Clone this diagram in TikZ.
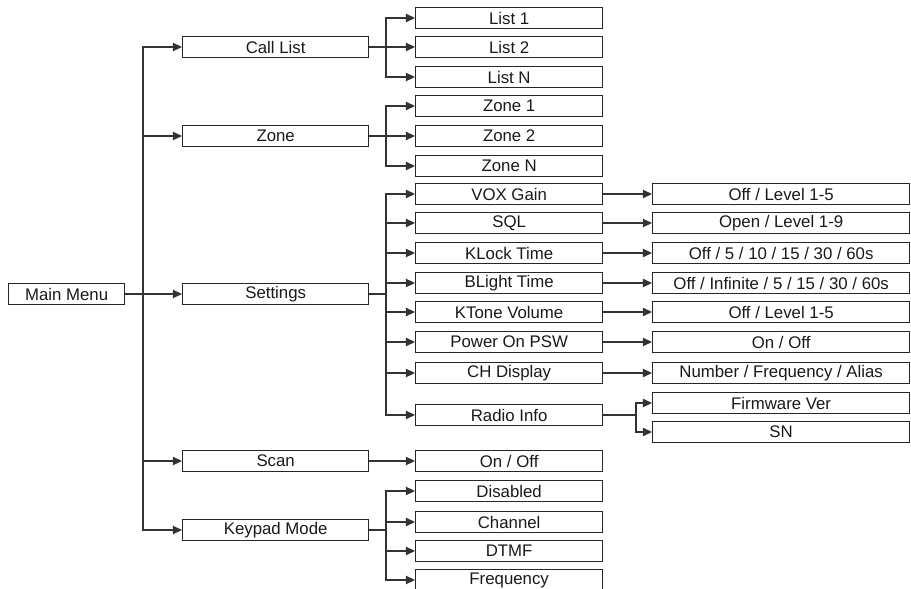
\documentclass[tikz,border=0pt]{standalone}
\usepackage{fontspec}
\setmainfont{Liberation Sans}
\usetikzlibrary{arrows.meta}

\begin{document}
\begin{tikzpicture}[x=0.5pt, y=-0.5pt,
  box/.style={rectangle, draw=black!85, line width=0.65pt, inner sep=0pt, anchor=west, minimum height=10.4pt, text=black!90, font=\fontsize{8.4}{10}\selectfont},
  root/.style={box, minimum width=58pt},
  lvone/.style={box, minimum width=93pt},
  lvtwo/.style={box, minimum width=93.5pt},
  lvthree/.style={box, minimum width=128.5pt},
  link/.style={draw=black!80, line width=0.6pt},
  >={Triangle[length=4.6pt, width=4.2pt]}]
\useasboundingbox (0,0) rectangle (911,589);
% root and first level
\node[root]   (main)     at (8,294)   {Main Menu};
\node[lvone]  (call)     at (182,47)  {Call List};
\node[lvone]  (zone)     at (182,136) {Zone};
\node[lvone]  (settings) at (182,294) {Settings};
\node[lvone]  (scan)     at (182,461) {Scan};
\node[lvone]  (keypad)   at (182,530) {Keypad Mode};
% second level
\node[lvtwo] (l1)     at (415,18)  {List 1};
\node[lvtwo] (l2)     at (415,47)  {List 2};
\node[lvtwo] (ln)     at (415,77)  {List N};
\node[lvtwo] (z1)     at (415,106) {Zone 1};
\node[lvtwo] (z2)     at (415,136) {Zone 2};
\node[lvtwo] (zn)     at (415,166) {Zone N};
\node[lvtwo] (vox)    at (415,194) {VOX Gain};
\node[lvtwo] (sql)    at (415,223) {SQL};
\node[lvtwo] (klock)  at (415,253) {KLock Time};
\node[lvtwo] (blight) at (415,283) {BLight Time};
\node[lvtwo] (ktone)  at (415,312) {KTone Volume};
\node[lvtwo] (power)  at (415,342) {Power On PSW};
\node[lvtwo] (chdisp) at (415,373) {CH Display};
\node[lvtwo] (radio)  at (415,415) {Radio Info};
\node[lvtwo] (scanon) at (415,461) {On / Off};
\node[lvtwo] (kdis)   at (415,491) {Disabled};
\node[lvtwo] (kchan)  at (415,522) {Channel};
\node[lvtwo] (kdtmf)  at (415,551) {DTMF};
\node[lvtwo] (kfreq)  at (415,580) {Frequency};
% third level
\node[lvthree] (voxv)    at (652,194) {Off / Level 1-5};
\node[lvthree] (sqlv)    at (652,223) {Open / Level 1-9};
\node[lvthree] (klockv)  at (652,253) {Off / 5 / 10 / 15 / 30 / 60s};
\node[lvthree] (blightv) at (652,283) {Off / Infinite / 5 / 15 / 30 / 60s};
\node[lvthree] (ktonev)  at (652,312) {Off / Level 1-5};
\node[lvthree] (powerv)  at (652,342) {On / Off};
\node[lvthree] (chdispv) at (652,373) {Number / Frequency / Alias};
\node[lvthree] (fwver)   at (652,403) {Firmware Ver};
\node[lvthree] (sn)      at (652,432) {SN};
% branch points
\coordinate (jm) at (143,294);
\coordinate (jc) at (386,47);
\coordinate (jz) at (386,136);
\coordinate (js) at (386,294);
\coordinate (jk) at (386,530);
\coordinate (jr) at (636,415);
\draw[link] (main)--(jm);
\foreach \n in {call,zone,settings,scan,keypad} \draw[link,->] (jm) |- (\n);
\draw[link] (call)--(jc); \foreach \n in {l1,l2,ln} \draw[link,->] (jc) |- (\n);
\draw[link] (zone)--(jz); \foreach \n in {z1,z2,zn} \draw[link,->] (jz) |- (\n);
\draw[link] (settings)--(js);
\foreach \n in {vox,sql,klock,blight,ktone,power,chdisp,radio} \draw[link,->] (js) |- (\n);
\draw[link,->] (scan)--(scanon);
\draw[link] (keypad)--(jk); \foreach \n in {kdis,kchan,kdtmf,kfreq} \draw[link,->] (jk) |- (\n);
\foreach \n in {vox,sql,klock,blight,ktone,power,chdisp} \draw[link,->] (\n)--(\n v);
\draw[link] (radio)--(jr); \foreach \n in {fwver,sn} \draw[link,->] (jr) |- (\n);
\end{tikzpicture}
\end{document}
